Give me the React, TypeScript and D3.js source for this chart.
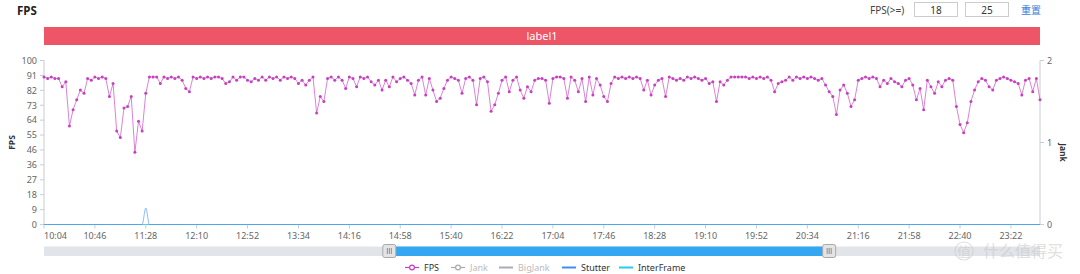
import React from "react";
import * as d3 from "d3";

// ---- data ----
const startTime = "10:04";
const stepMinutes = 3;

const fpsValues = [
  90, 89, 90, 89, 89, 84, 87, 60, 70, 76,
  82, 80, 89, 88, 90, 89, 90, 89, 78, 86,
  57, 53, 71, 72, 78, 44, 63, 57, 80, 90,
  90, 90, 86, 90, 89, 90, 89, 90, 88, 83,
  81, 90, 89, 90, 89, 90, 89, 90, 90, 89,
  86, 87, 90, 88, 90, 90, 88, 87, 89, 88,
  90, 88, 90, 89, 90, 88, 90, 89, 90, 89,
  86, 88, 85, 88, 90, 68, 78, 75, 89, 90,
  88, 90, 88, 83, 90, 89, 84, 90, 89, 90,
  87, 85, 88, 82, 88, 84, 90, 87, 89, 90,
  88, 86, 79, 88, 90, 79, 89, 82, 75, 77,
  83, 88, 90, 89, 88, 80, 89, 90, 88, 73,
  89, 90, 87, 69, 73, 80, 88, 90, 81, 88,
  90, 82, 77, 84, 81, 88, 89, 89, 88, 74,
  89, 90, 90, 89, 77, 90, 88, 81, 89, 75,
  90, 79, 89, 85, 78, 75, 86, 90, 89, 90,
  89, 90, 89, 90, 89, 82, 88, 79, 85, 88,
  89, 78, 90, 89, 88, 89, 88, 90, 89, 90,
  89, 88, 89, 86, 87, 75, 87, 85, 88, 90,
  90, 90, 90, 90, 89, 90, 89, 90, 89, 90,
  88, 81, 86, 87, 88, 90, 88, 90, 89, 90,
  89, 90, 89, 88, 89, 85, 81, 78, 67, 82,
  85, 80, 72, 76, 88, 89, 90, 89, 90, 89,
  84, 88, 86, 89, 87, 86, 84, 88, 89, 85,
  76, 83, 70, 88, 84, 80, 87, 84, 88, 89,
  88, 72, 61, 56, 62, 75, 82, 87, 89, 88,
  84, 82, 88, 89, 90, 89, 88, 87, 86, 79,
  88, 89, 81, 89, 76,
];

// Stutter / InterFrame are zero except for the listed events
const stutterEvents = [{ time: "11:28", value: 0.2 }];
const interFrameEvents: { time: string; value: number }[] = [];

const timeTickLabels = [
  "10:04", "10:46", "11:28", "12:10", "12:52", "13:34", "14:16", "14:58",
  "15:40", "16:22", "17:04", "17:46", "18:28", "19:10", "19:52", "20:34",
  "21:16", "21:58", "22:40", "23:22",
];
const fpsTickLabels = ["0", "9", "18", "27", "36", "46", "55", "64", "73", "82", "91", "100"];
const jankTickLabels = ["0", "1", "2"];
const legendNames = ["FPS", "Jank", "BigJank", "Stutter", "InterFrame"];
const thresholdValues = ["18", "25"];
const zoomWindow = ["14:49", "20:52"];

// ---- layout ----
const W = 1080;
const H = 274;
const left = 44;
const right = 1040;
const top = 60.5;
const bottom = 224.5;
const FONT = "'Noto Sans', 'Noto Sans CJK SC', sans-serif";

const parseHM = d3.timeParse("%H:%M");
const fmtHM = d3.timeFormat("%H:%M");
const t0 = parseHM(startTime) as Date;
const times = fpsValues.map((_, i) => fmtHM(d3.timeMinute.offset(t0, i * stepMinutes)));

const x = d3.scalePoint<string>().domain(times).range([left, right]);
const yFps = d3.scaleLinear().domain([0, 100]).range([bottom, top]);
const yJank = d3.scaleLinear().domain([0, 2]).range([bottom, top]);

const eventSeries = (events: { time: string; value: number }[]) =>
  times.map((t) => {
    const e = events.find((ev) => ev.time === t);
    return e ? e.value : 0;
  });

const stutterValues = eventSeries(stutterEvents);
const interFrameValues = eventSeries(interFrameEvents);

const fpsLine = d3
  .line<number>()
  .x((_, i) => x(times[i]) as number)
  .y((d) => yFps(d));

const jankLine = d3
  .line<number>()
  .x((_, i) => x(times[i]) as number)
  .y((d) => yJank(d))
  .curve(d3.curveMonotoneX);

const FPS_COLOR = "#c640c0";
const STUTTER_COLOR = "#3f8ef5";
const INTER_COLOR = "#2ccbe8";
const AXIS_COLOR = "#c9ccd4";
const LABEL_COLOR = "#666";

const legendStyle: Record<string, { color: string; dot: boolean; on: boolean; x: number }> = {
  FPS: { color: FPS_COLOR, dot: true, on: true, x: 405 },
  Jank: { color: "#aaa", dot: true, on: false, x: 451 },
  BigJank: { color: "#aab", dot: false, on: false, x: 499 },
  Stutter: { color: STUTTER_COLOR, dot: false, on: true, x: 562 },
  InterFrame: { color: INTER_COLOR, dot: false, on: true, x: 619 },
};

function Handle({ cx }: { cx: number }) {
  return (
    <g>
      <rect x={cx - 6.5} y={244.5} width={13} height={13} rx={2} fill="#e4e4e4" stroke="#a9a9a9" />
      {[-2, 0, 2].map((d) => (
        <line key={d} x1={cx + d} x2={cx + d} y1={248} y2={254} stroke="#777" strokeWidth={0.8} />
      ))}
    </g>
  );
}

export default function App() {
  const fpsTickStep = 100 / (fpsTickLabels.length - 1);
  const zx0 = x(zoomWindow[0]) as number;
  const zx1 = x(zoomWindow[1]) as number;

  return (
    <div style={{ position: "fixed", left: 0, top: 0, width: W, height: H, background: "#fff" }}>
      <svg width={W} height={H} style={{ display: "block", fontFamily: FONT }}>
        {/* header */}
        <text x={17} y={15} fontSize={11.5} fontWeight="bold" fill="#222">FPS</text>
        <text x={870} y={13.5} fontSize={10} fill="#444">FPS(&gt;=)</text>
        {thresholdValues.map((v, i) => (
          <g key={v}>
            <rect x={914.5 + i * 51} y={2.5} width={43} height={14} fill="#fff" stroke="#ccc" />
            <text x={936 + i * 51} y={13.5} fontSize={10} fill="#333" textAnchor="middle">{v}</text>
          </g>
        ))}
        <text x={1021} y={13.5} fontSize={10} fill="#3b7dd8">重置</text>

        {/* label band */}
        <rect x={left} y={27} width={right - left} height={18} fill="#ee5567" />
        <text x={(left + right) / 2} y={40} fontSize={11} fill="#fff" textAnchor="middle">label1</text>

        {/* left axis */}
        <line x1={left} x2={left} y1={top} y2={bottom} stroke={AXIS_COLOR} />
        {fpsTickLabels.map((lab, i) => {
          const yy = yFps(i * fpsTickStep);
          return (
            <g key={lab}>
              <line x1={left - 4} x2={left} y1={yy} y2={yy} stroke={AXIS_COLOR} />
              <text x={left - 7} y={yy + 3.3} fontSize={9} fill={LABEL_COLOR} textAnchor="end">{lab}</text>
            </g>
          );
        })}
        <text transform={`translate(15,${(top + bottom) / 2}) rotate(-90)`} fontSize={8.5} fontWeight="bold" fill="#333" textAnchor="middle">FPS</text>

        {/* right axis */}
        <line x1={right} x2={right} y1={top} y2={bottom} stroke={AXIS_COLOR} />
        {jankTickLabels.map((lab) => {
          const yy = yJank(+lab);
          return (
            <g key={lab}>
              <line x1={right} x2={right + 4} y1={yy} y2={yy} stroke={AXIS_COLOR} />
              <text x={right + 7} y={yy + 3.3} fontSize={9} fill={LABEL_COLOR}>{lab}</text>
            </g>
          );
        })}
        <text transform={`translate(1060,${(top + bottom) / 2 + 10}) rotate(90)`} fontSize={8.5} fontWeight="bold" fill="#333" textAnchor="middle">Jank</text>

        {/* bottom axis */}
        <line x1={left} x2={right} y1={bottom} y2={bottom} stroke={AXIS_COLOR} />
        {timeTickLabels.map((lab, i) => {
          const xx = x(lab) as number;
          return (
            <g key={lab}>
              <line x1={xx} x2={xx} y1={bottom} y2={bottom + 4} stroke={AXIS_COLOR} />
              <text x={xx} y={239} fontSize={9} fill={LABEL_COLOR} textAnchor={i === 0 ? "start" : "middle"}>{lab}</text>
            </g>
          );
        })}

        {/* series */}
        <path d={jankLine(interFrameValues) || ""} fill="none" stroke={INTER_COLOR} strokeWidth={1} opacity={0.7} />
        <path d={jankLine(stutterValues) || ""} fill="none" stroke={STUTTER_COLOR} strokeWidth={1} opacity={0.6} />
        <path d={fpsLine(fpsValues) || ""} fill="none" stroke={FPS_COLOR} strokeWidth={1} opacity={0.65} />
        {fpsValues.map((v, i) => (
          <circle key={i} cx={x(times[i]) as number} cy={yFps(v)} r={1.5} fill={FPS_COLOR} />
        ))}

        {/* zoom slider */}
        <rect x={left} y={246.5} width={right - left} height={9.5} fill="#e1e4e9" />
        <rect x={zx0} y={246.5} width={zx1 - zx0} height={9.5} fill="#33a7f2" />
        <Handle cx={zx0} />
        <Handle cx={zx1} />

        {/* legend */}
        {legendNames.map((name) => {
          const s = legendStyle[name];
          const iy = 267.5;
          return (
            <g key={name}>
              <line x1={s.x} x2={s.x + 14} y1={iy} y2={iy} stroke={s.color} strokeWidth={s.dot ? 1.2 : 2} />
              {s.dot && <circle cx={s.x + 7} cy={iy} r={2.4} fill="#fff" stroke={s.color} strokeWidth={1.2} />}
              <text x={s.x + 19} y={iy + 3.2} fontSize={9} fill={s.on ? "#333" : "#bbb"}>{name}</text>
            </g>
          );
        })}

        {/* source mark */}
        <g opacity={0.55}>
          <circle cx={964} cy={251} r={9} fill="none" stroke="#c8c8c8" strokeWidth={1.2} />
          <text x={964} y={256.5} fontSize={14} fill="#c8c8c8" textAnchor="middle">值</text>
          <text x={983} y={257} fontSize={16} fill="#c8c8c8">什么值得买</text>
        </g>
      </svg>
    </div>
  );
}
